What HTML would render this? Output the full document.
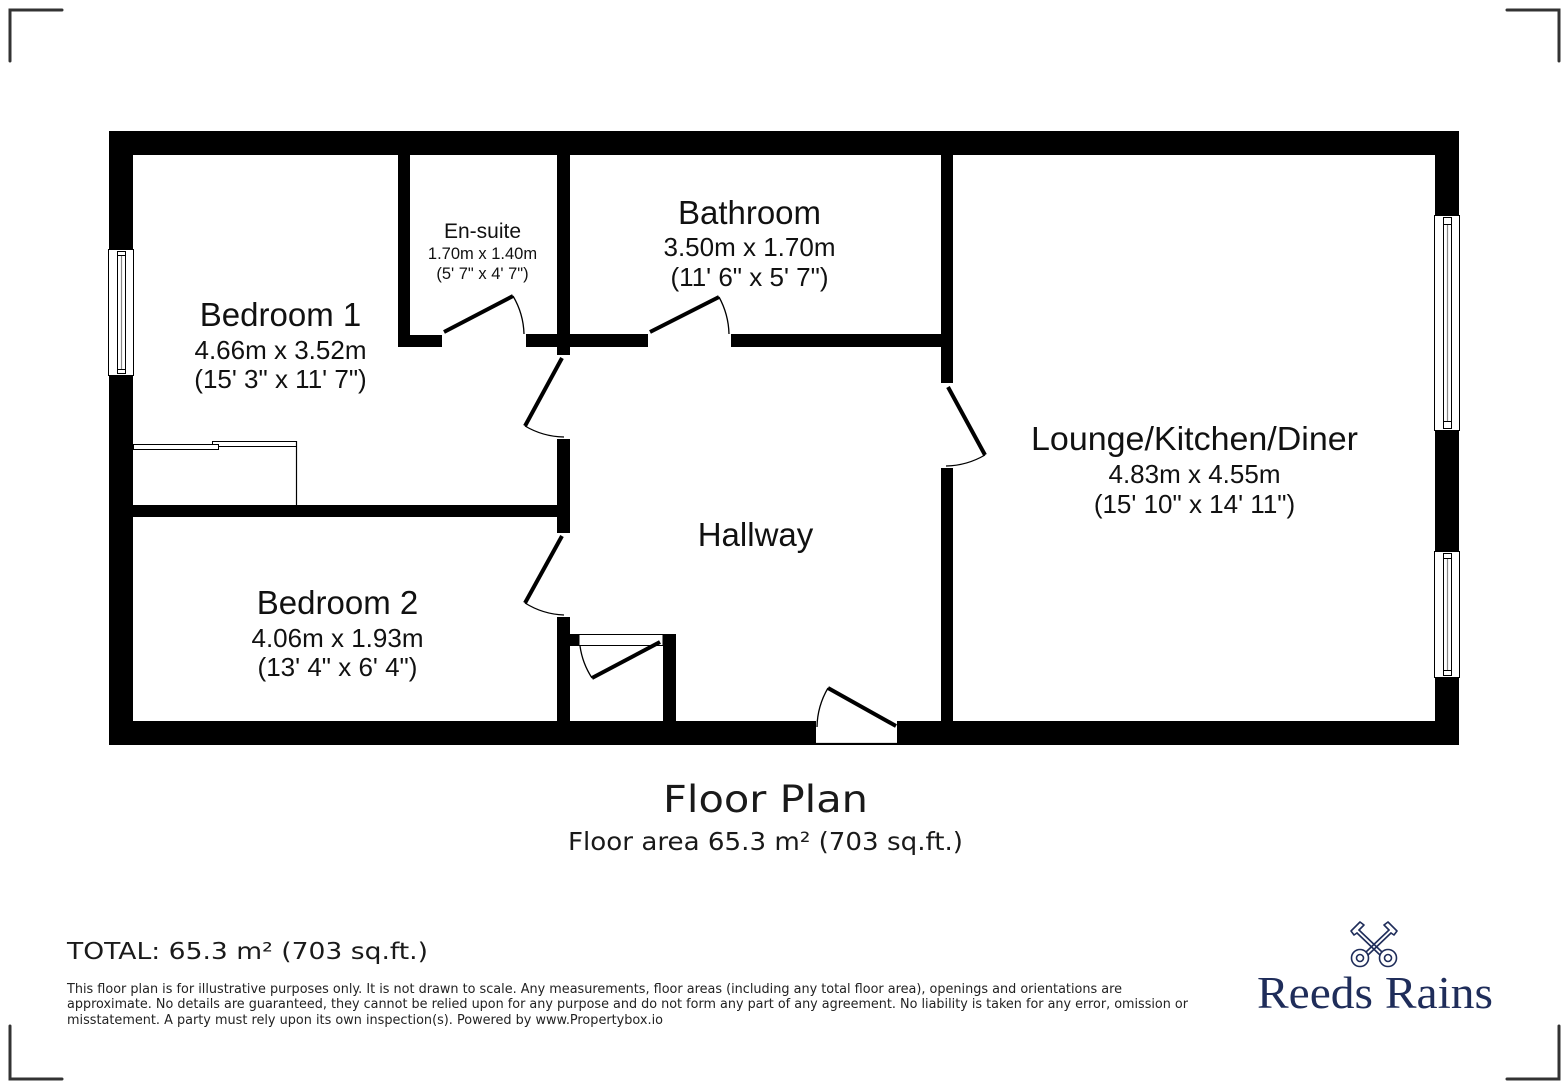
<!DOCTYPE html>
<html>
<head>
<meta charset="utf-8">
<style>
  html,body{margin:0;padding:0;background:#fff;}
  svg{display:block;}
  .rl{font-family:"Liberation Sans",Arial,sans-serif;fill:#111;}
  .dv{font-family:"DejaVu Sans","Liberation Sans",sans-serif;fill:#1a1a1a;}
</style>
</head>
<body>
<svg width="1568" height="1088" viewBox="0 0 1568 1088" xmlns="http://www.w3.org/2000/svg">
  <rect x="0" y="0" width="1568" height="1088" fill="#fff"/>

  <!-- corner marks -->
  <g fill="none" stroke="#333" stroke-width="3" stroke-linecap="round">
    <path d="M10,61 V10 H62"/>
    <path d="M1507,10 H1559 V61"/>
    <path d="M10,1026 V1079 H62"/>
    <path d="M1507,1079 H1559 V1026"/>
  </g>

  <!-- outer walls -->
  <rect x="109" y="131" width="1350" height="614" fill="#000"/>
  <rect x="133" y="155" width="1302" height="566" fill="#fff"/>

  <!-- interior walls -->
  <g fill="#000">
    <rect x="398" y="155" width="12" height="192"/>
    <rect x="398" y="335" width="44" height="12"/>
    <rect x="526" y="334" width="122" height="13"/>
    <rect x="557" y="155" width="13" height="200"/>
    <rect x="731" y="334" width="216" height="13"/>
    <rect x="941" y="155" width="12" height="228"/>
    <rect x="941" y="468" width="12" height="253"/>
    <rect x="557" y="439" width="13" height="94"/>
    <rect x="557" y="617" width="13" height="104"/>
    <rect x="133" y="505" width="437" height="12"/>
    <rect x="570" y="634" width="9" height="12"/>
    <rect x="663" y="634" width="13" height="87"/>
  </g>

  <!-- cupboard door frame -->
  <rect x="579" y="634.5" width="84" height="11" fill="#fff" stroke="#000" stroke-width="1"/>

  <!-- front door gap -->
  <rect x="815" y="720" width="83" height="24" fill="#fff"/>
  <line x1="815" y1="743.5" x2="898" y2="743.5" stroke="#000" stroke-width="1.2"/>
  <line x1="815.5" y1="721" x2="815.5" y2="744" stroke="#000" stroke-width="1"/>
  <line x1="897.5" y1="721" x2="897.5" y2="744" stroke="#000" stroke-width="1"/>

  <!-- door leaves -->
  <g stroke="#000" stroke-width="4" stroke-linecap="butt" fill="none">
    <line x1="444" y1="332" x2="513" y2="296"/>
    <line x1="650" y1="332" x2="719" y2="297"/>
    <line x1="562" y1="358" x2="525" y2="426"/>
    <line x1="562" y1="536" x2="525" y2="603"/>
    <line x1="948" y1="387" x2="985" y2="455"/>
    <line x1="660" y1="642" x2="592" y2="678"/>
    <line x1="896" y1="726" x2="828" y2="688"/>
  </g>
  <!-- door arcs -->
  <g stroke="#000" stroke-width="1.3" fill="none">
    <path d="M513,296 A79,79 0 0 1 524,334"/>
    <path d="M719,297 A81,81 0 0 1 729,334"/>
    <path d="M525,426 A79,79 0 0 0 564,437"/>
    <path d="M525,603 A79,79 0 0 0 564,615"/>
    <path d="M985,455 A80,80 0 0 1 946,466"/>
    <path d="M592,678 A78,78 0 0 1 580,646"/>
    <path d="M828,688 A80,80 0 0 0 817,727"/>
  </g>

  <!-- wardrobe -->
  <g fill="#fff" stroke="#000" stroke-width="1">
    <rect x="212.5" y="441.5" width="84" height="5"/>
    <rect x="133.5" y="444.5" width="85" height="5"/>
  </g>
  <line x1="296.5" y1="441" x2="296.5" y2="505" stroke="#000" stroke-width="1.2"/>

  <!-- left window -->
  <g>
    <rect x="108.5" y="249.5" width="25" height="126" fill="#fff" stroke="#000" stroke-width="1"/>
    <rect x="117.5" y="251.5" width="8" height="122" fill="#fff" stroke="#000" stroke-width="1"/>
    <line x1="121.5" y1="256" x2="121.5" y2="369" stroke="#888" stroke-width="1.2"/>
    <line x1="117.5" y1="255.5" x2="125.5" y2="255.5" stroke="#000" stroke-width="1"/>
    <line x1="117.5" y1="369.5" x2="125.5" y2="369.5" stroke="#000" stroke-width="1"/>
  </g>
  <!-- right windows -->
  <g>
    <rect x="1434.5" y="215.5" width="25" height="215" fill="#fff" stroke="#000" stroke-width="1"/>
    <rect x="1443.5" y="217.5" width="8" height="211" fill="#fff" stroke="#000" stroke-width="1"/>
    <line x1="1447.5" y1="225" x2="1447.5" y2="421" stroke="#888" stroke-width="1.2"/>
    <line x1="1443.5" y1="224.5" x2="1451.5" y2="224.5" stroke="#000" stroke-width="1"/>
    <line x1="1443.5" y1="421.5" x2="1451.5" y2="421.5" stroke="#000" stroke-width="1"/>

    <rect x="1434.5" y="551.5" width="25" height="126" fill="#fff" stroke="#000" stroke-width="1"/>
    <rect x="1443.5" y="553.5" width="8" height="122" fill="#fff" stroke="#000" stroke-width="1"/>
    <line x1="1447.5" y1="559" x2="1447.5" y2="670" stroke="#888" stroke-width="1.2"/>
    <line x1="1443.5" y1="558.5" x2="1451.5" y2="558.5" stroke="#000" stroke-width="1"/>
    <line x1="1443.5" y1="670.5" x2="1451.5" y2="670.5" stroke="#000" stroke-width="1"/>
  </g>

  <!-- room labels -->
  <g class="rl" text-anchor="middle">
    <text x="280.5" y="326" font-size="33">Bedroom 1</text>
    <text x="280.5" y="359" font-size="26">4.66m x 3.52m</text>
    <text x="280.5" y="388" font-size="26">(15' 3" x 11' 7")</text>

    <text x="482.5" y="238" font-size="21">En-suite</text>
    <text x="482.5" y="259" font-size="16.5">1.70m x 1.40m</text>
    <text x="482.5" y="279" font-size="16.5">(5' 7" x 4' 7")</text>

    <text x="749.5" y="224" font-size="33">Bathroom</text>
    <text x="749.5" y="256" font-size="26">3.50m x 1.70m</text>
    <text x="749.5" y="286" font-size="26">(11' 6" x 5' 7")</text>

    <text x="1194.5" y="450" font-size="33" textLength="327" lengthAdjust="spacingAndGlyphs">Lounge/Kitchen/Diner</text>
    <text x="1194.5" y="483" font-size="26">4.83m x 4.55m</text>
    <text x="1194.5" y="513" font-size="26">(15' 10" x 14' 11")</text>

    <text x="755.5" y="546" font-size="33">Hallway</text>

    <text x="337.5" y="614" font-size="33">Bedroom 2</text>
    <text x="337.5" y="647" font-size="26">4.06m x 1.93m</text>
    <text x="337.5" y="676" font-size="26">(13' 4" x 6' 4")</text>
  </g>

  <!-- floor plan title -->
  <g class="dv" text-anchor="middle">
    <text x="765.5" y="812" font-size="37" textLength="205" lengthAdjust="spacingAndGlyphs">Floor Plan</text>
    <text x="765.5" y="850" font-size="25" textLength="395" lengthAdjust="spacingAndGlyphs">Floor area 65.3 m² (703 sq.ft.)</text>
  </g>

  <!-- total + disclaimer -->
  <g class="dv">
    <text x="67" y="959" font-size="23" textLength="361" lengthAdjust="spacingAndGlyphs">TOTAL: 65.3 m² (703 sq.ft.)</text>
    <text x="67" y="993" font-size="13" fill="#222" textLength="1055" lengthAdjust="spacingAndGlyphs">This floor plan is for illustrative purposes only. It is not drawn to scale. Any measurements, floor areas (including any total floor area), openings and orientations are</text>
    <text x="67" y="1008" font-size="13" fill="#222" textLength="1121" lengthAdjust="spacingAndGlyphs">approximate. No details are guaranteed, they cannot be relied upon for any purpose and do not form any part of any agreement. No liability is taken for any error, omission or</text>
    <text x="67" y="1024" font-size="13" fill="#222" textLength="596" lengthAdjust="spacingAndGlyphs">misstatement. A party must rely upon its own inspection(s). Powered by www.Propertybox.io</text>
  </g>

  <!-- logo -->
  <g fill="none" stroke="#1f2d5a" stroke-width="1.6" stroke-linecap="round" stroke-linejoin="round">
    <circle cx="1360" cy="958" r="8.5"/>
    <circle cx="1360" cy="958" r="3.5"/>
    <path d="M1366,952 L1389,930"/>
    <path d="M1368,955 L1391,933"/>
    <path d="M1389,930 L1384,925 L1388,922 L1393,927 L1397,931 L1394,935 L1391,933"/>
    <circle cx="1388" cy="958" r="8.5"/>
    <circle cx="1388" cy="958" r="3.5"/>
    <path d="M1382,952 L1359,930"/>
    <path d="M1380,955 L1357,933"/>
    <path d="M1359,930 L1364,925 L1360,922 L1355,927 L1351,931 L1354,935 L1357,933"/>
  </g>
  <text x="1375" y="1008" text-anchor="middle" font-family="'Liberation Serif','Times New Roman',serif" font-size="45" fill="#1f2d5a" textLength="236" lengthAdjust="spacingAndGlyphs">Reeds Rains</text>
</svg>
</body>
</html>
